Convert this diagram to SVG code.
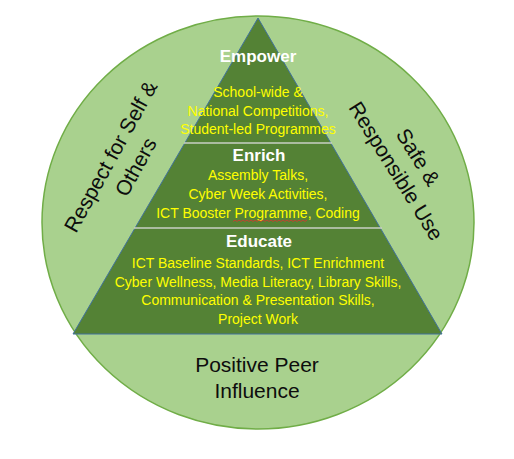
<svg xmlns="http://www.w3.org/2000/svg" width="514" height="459" viewBox="0 0 514 459">
  <style>
    .side { font-family: "Liberation Sans", Arial, sans-serif; font-size: 21px; fill: #0d0d0d; text-anchor: middle; }
    .title { font-family: "Liberation Sans", Arial, sans-serif; font-size: 17px; font-weight: bold; fill: #ffffff; text-anchor: middle; }
    .item { font-family: "Liberation Sans", Arial, sans-serif; font-size: 14px; fill: #ffff00; text-anchor: middle; }
    .divider { stroke: #c9cfc4; stroke-width: 1.5; fill: none; }
  </style>
  <rect width="514" height="459" fill="#ffffff"/>
  <g id="circle">
    <ellipse cx="258" cy="222.5" rx="216" ry="206.5" fill="#a9d18e" stroke="#70ad47" stroke-width="1.5"/>
  </g>
  <g id="triangle">
    <polygon points="258,18 442,334 73,334" fill="#548235" stroke="#41719c" stroke-width="1"/>
    <line class="divider" x1="184" y1="143" x2="332" y2="143"/>
    <line class="divider" x1="134" y1="228" x2="382" y2="228"/>
  </g>
  <g id="empower">
    <text class="title" x="258" y="62">Empower</text>
    <text class="item" x="258" y="97">School-wide &amp;</text>
    <text class="item" x="258" y="115.5">National Competitions,</text>
    <text class="item" x="258" y="134">Student-led Programmes</text>
  </g>
  <g id="enrich">
    <text class="title" x="259" y="161">Enrich</text>
    <text class="item" x="258" y="180">Assembly Talks,</text>
    <text class="item" x="258" y="199">Cyber Week Activities,</text>
    <text class="item" x="258" y="218">ICT Booster Programme, Coding</text>
    <path d="M233,221.5 l2,-1.5 l2,1.5 l2,-1.5 l2,1.5 l2,-1.5 l2,1.5 l2,-1.5 l2,1.5 l2,-1.5 l2,1.5 l2,-1.5 l2,1.5 l2,-1.5 l2,1.5 l2,-1.5 l2,1.5 l2,-1.5 l2,1.5 l2,-1.5 l2,1.5 l2,-1.5 l2,1.5 l2,-1.5 l2,1.5 l2,-1.5 l2,1.5 l2,-1.5 l2,1.5 l2,-1.5 l2,1.5 l2,-1.5 l2,1.5 l2,-1.5 l2,1.5 l2,-1.5 l2,1.5 l2,-1.5" fill="none" stroke="#e03030" stroke-width="0.8"/>
  </g>
  <g id="educate">
    <text class="title" x="259" y="247">Educate</text>
    <text class="item" x="258" y="268">ICT Baseline Standards, ICT Enrichment</text>
    <text class="item" x="258" y="286.5">Cyber Wellness, Media Literacy, Library Skills,</text>
    <text class="item" x="258" y="305">Communication &amp; Presentation Skills,</text>
    <text class="item" x="258" y="323.5">Project Work</text>
  </g>
  <g id="respect" transform="translate(117,160) rotate(-61)">
    <text class="side" x="0" y="0">Respect for Self &amp;</text>
    <text class="side" x="3" y="27">Others</text>
  </g>
  <g id="safe" transform="translate(412,161) rotate(58)">
    <text class="side" x="0" y="0">Safe &amp;</text>
    <text class="side" x="0" y="26">Responsible Use</text>
  </g>
  <g id="peer">
    <text class="side" x="257" y="372">Positive Peer</text>
    <text class="side" x="257" y="398">Influence</text>
  </g>
</svg>
